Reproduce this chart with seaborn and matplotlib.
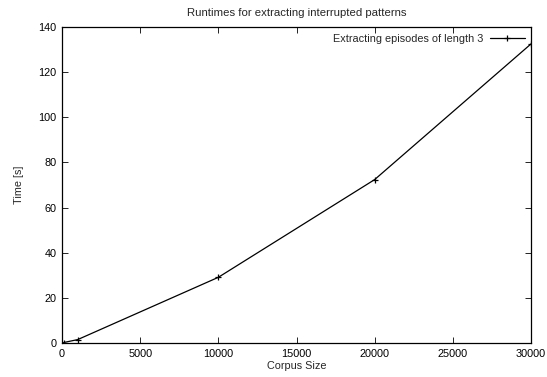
import matplotlib
matplotlib.use("Agg")
import matplotlib.pyplot as plt
import seaborn as sns
import pandas as pd

corpus_size = [100, 1000, 10000, 20000, 30000]
runtime = [0.2, 1.5, 29.1, 72.4, 132.5]
series_name = "Extracting episodes of length 3"

sns.set_style("ticks")
plt.rcParams['font.family'] = ['Liberation Sans', 'DejaVu Sans']

df = pd.DataFrame({"Corpus Size": corpus_size, "Time [s]": runtime, "series": series_name})

fig = plt.figure(figsize=(5.47, 3.77), dpi=100)
ax = fig.add_axes([62/547, 34/377, (531-62)/547, (343-27)/377])
sns.lineplot(data=df, x="Corpus Size", y="Time [s]", hue="series", palette=["black"],
             marker="+", markersize=4.5, markeredgewidth=0.9, markeredgecolor="black",
             linewidth=0.9, ax=ax)

ax.set_xlim(0, 30000)
ax.set_ylim(0, 140)
ax.set_xticks([0, 5000, 10000, 15000, 20000, 25000, 30000])
ax.set_yticks([0, 20, 40, 60, 80, 100, 120, 140])
ax.tick_params(direction="in", top=True, right=True, labelsize=7.8, length=4, width=0.6,
               colors="black", pad=4)
for s in ax.spines.values():
    s.set_visible(True)
    s.set_linewidth(0.9)
    s.set_color("black")
ax.set_xlabel("Corpus Size", fontsize=7.8, labelpad=2)
ax.set_ylabel("Time [s]", fontsize=7.8, labelpad=10)
ax.set_title("Runtimes for extracting interrupted patterns", fontsize=8.2, pad=8)
leg = ax.legend(loc="upper right", frameon=False, fontsize=7.8, markerfirst=False,
                handlelength=3.2, borderaxespad=0.2, handletextpad=0.6)
for h in leg.legend_handles:
    h.set_markeredgecolor("black")
fig.savefig("out.png", dpi=100)
